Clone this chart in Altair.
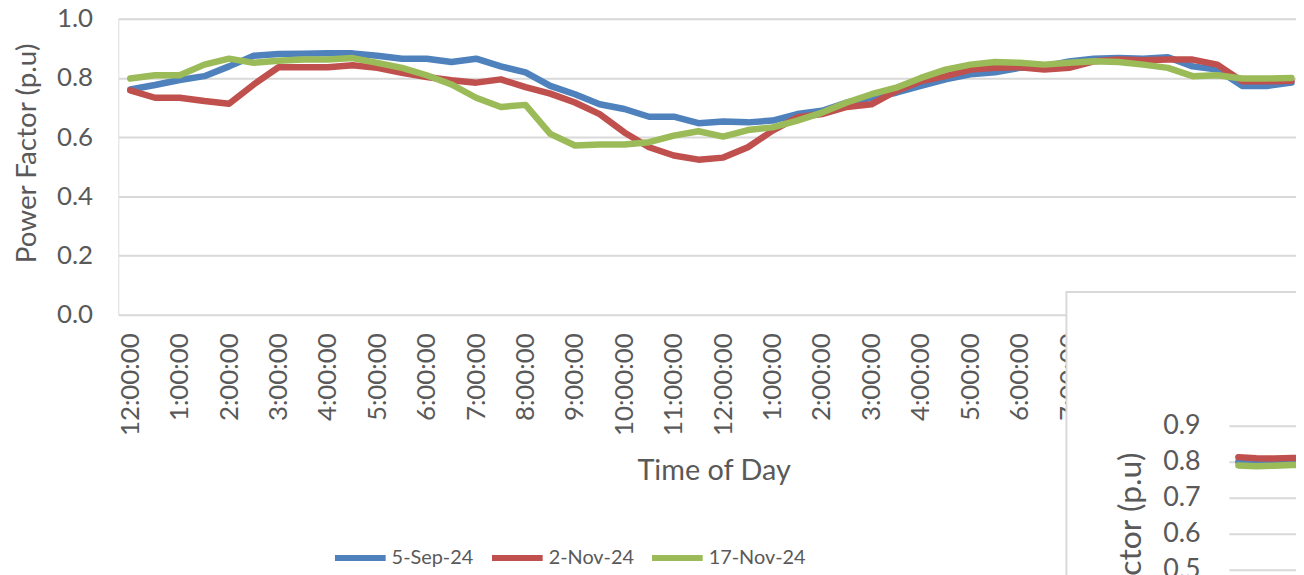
import altair as alt
import pandas as pd

# ---------------- data ----------------
series_names = ["5-Sep-24", "2-Nov-24", "17-Nov-24"]
series_colors = ["#4F81BD", "#C0504D", "#9BBB59"]

hours = [i * 0.5 for i in range(48)]  # 12:00 AM ... 11:30 PM, every 30 min

sep5 = [0.761, 0.776, 0.793, 0.806, 0.839, 0.875, 0.881, 0.882, 0.883, 0.883,
        0.875, 0.865, 0.865, 0.854, 0.865, 0.839, 0.819, 0.773, 0.745, 0.711,
        0.695, 0.669, 0.669, 0.647, 0.653, 0.650, 0.656, 0.678, 0.689, 0.717,
        0.733, 0.750, 0.773, 0.795, 0.812, 0.819, 0.834, 0.839, 0.856, 0.865,
        0.867, 0.865, 0.870, 0.839, 0.828, 0.773, 0.773, 0.784]
nov2 = [0.758, 0.733, 0.733, 0.722, 0.713, 0.778, 0.836, 0.836, 0.836, 0.843,
        0.834, 0.817, 0.803, 0.792, 0.784, 0.795, 0.769, 0.747, 0.717, 0.678,
        0.616, 0.566, 0.538, 0.524, 0.531, 0.566, 0.622, 0.667, 0.678, 0.702,
        0.711, 0.756, 0.789, 0.806, 0.828, 0.834, 0.836, 0.828, 0.834, 0.856,
        0.862, 0.860, 0.862, 0.862, 0.845, 0.789, 0.789, 0.790]
nov17 = [0.798, 0.809, 0.809, 0.845, 0.865, 0.851, 0.858, 0.862, 0.862, 0.867,
         0.851, 0.834, 0.809, 0.778, 0.733, 0.702, 0.709, 0.611, 0.572, 0.575,
         0.575, 0.583, 0.605, 0.620, 0.602, 0.624, 0.633, 0.656, 0.683, 0.717,
         0.745, 0.767, 0.800, 0.828, 0.845, 0.854, 0.851, 0.845, 0.851, 0.856,
         0.854, 0.845, 0.834, 0.806, 0.809, 0.798, 0.798, 0.800]

y_ticks = [0.0, 0.2, 0.4, 0.6, 0.8, 1.0]
x_tick_hours = list(range(24))

# overlapping second chart (only its upper-left corner is visible)
inset_hours = [0.0, 0.5, 1.0, 1.5, 2.0]
inset_sep5 = [0.801, 0.800, 0.800, 0.801, 0.800]
inset_nov2 = [0.814, 0.811, 0.810, 0.812, 0.810]
inset_nov17 = [0.791, 0.789, 0.790, 0.792, 0.793]
inset_ticks = [0.5, 0.6, 0.7, 0.8, 0.9]

FONT = "Lato"
TXT = "#595959"
GRID = "#d9d9d9"

rows = []
for name, vals in zip(series_names, [sep5, nov2, nov17]):
    for h, v in zip(hours, vals):
        rows.append({"Hour": h, "Value": v, "Series": name})
df = pd.DataFrame(rows)

irows = []
for name, vals in zip(series_names, [inset_sep5, inset_nov2, inset_nov17]):
    for h, v in zip(inset_hours, vals):
        irows.append({"Hour": h, "Value": v, "Series": name})
idf = pd.DataFrame(irows)

W, H = 1185, 298

color = alt.Color(
    "Series:N",
    scale=alt.Scale(domain=series_names, range=series_colors),
    legend=alt.Legend(
        title=None, orient="none", direction="horizontal",
        legendX=215, legendY=514,
        symbolType="stroke", symbolStrokeWidth=6, symbolSize=2600,
        labelFont=FONT, labelFontSize=20, labelColor=TXT,
        labelOffset=3, columnPadding=6,
    ),
)

main = alt.Chart(df).mark_line(strokeWidth=6.5, strokeCap="round", strokeJoin="round").encode(
    x=alt.X(
        "Hour:Q",
        scale=alt.Scale(domain=[-0.2413, 23.592], nice=False, zero=False),
        axis=alt.Axis(
            values=x_tick_hours,
            labelExpr="(datum.value % 12 == 0 ? 12 : datum.value % 12) + ':00:00'",
            labelAngle=-90, labelAlign="right", labelBaseline="middle",
            labelFont=FONT, labelFontSize=26, labelColor=TXT, labelPadding=18,
            labelOverlap=False, ticks=False, domain=False, grid=False,
            title="Time of Day", titleFont=FONT, titleFontSize=29, titleColor=TXT,
            titleFontWeight="normal", titleX=599, titleY=166,
            titleAlign="center", titleBaseline="alphabetic", zindex=0,
        ),
    ),
    y=alt.Y(
        "Value:Q",
        scale=alt.Scale(domain=[0, 1], nice=False, zero=False),
        axis=alt.Axis(
            values=y_ticks, format=".1f",
            labelFont=FONT, labelFontSize=26, labelColor=TXT, labelPadding=26,
            ticks=False, domain=False, grid=True, gridColor=GRID, gridWidth=2,
            title="Power Factor (p.u)", titleFont=FONT, titleFontSize=28,
            titleColor=TXT, titleFontWeight="normal", titleAngle=270,
            titleX=-91, titleY=135, titleAlign="center", titleBaseline="middle",
            zindex=0,
        ),
    ),
    color=color,
)

# white panel of the overlapping second chart
panel = alt.Chart(alt.Data(values=[{"p": 1}])).mark_rect(
    fill="white", stroke=GRID, strokeWidth=2
).encode(
    x=alt.value(954), x2=alt.value(1500), y=alt.value(275), y2=alt.value(900)
)

inset_y = alt.Scale(domain=[0.5, 0.9], range=[555, 410], nice=False, zero=False)
inset_x = alt.Scale(domain=[0, 2], range=[1127, 1199], nice=False, zero=False)

tick_df = pd.DataFrame({"v": inset_ticks})

inset_grid = alt.Chart(tick_df).mark_rule(color=GRID, strokeWidth=2).encode(
    y=alt.Y("v:Q", scale=inset_y, axis=None),
    x=alt.value(1118), x2=alt.value(1500),
)

inset_lines = alt.Chart(idf).mark_line(strokeWidth=6.5, strokeCap="round").encode(
    x=alt.X("Hour:Q", scale=inset_x, axis=None),
    y=alt.Y("Value:Q", scale=inset_y, axis=None),
    color=alt.Color("Series:N", scale=alt.Scale(domain=series_names, range=series_colors), legend=None),
)

inset_labels = alt.Chart(tick_df).mark_text(
    align="right", baseline="middle", font=FONT, fontSize=27, color=TXT
).encode(
    y=alt.Y("v:Q", scale=inset_y, axis=None),
    x=alt.value(1089),
    text=alt.Text("v:Q", format=".1f"),
)

inset_title = alt.Chart(alt.Data(values=[{"t": "Power Factor (p.u)"}])).mark_text(
    angle=270, align="center", baseline="middle", font=FONT, fontSize=32, color=TXT
).encode(
    x=alt.value(1019), y=alt.value(563), text="t:N"
)

chart = alt.layer(
    main, panel, inset_grid, inset_lines, inset_labels, inset_title
).resolve_scale(
    x="independent", y="independent"
).properties(
    width=W, height=H,
    padding={"left": 111, "top": 9, "right": 0, "bottom": 260},
    autosize=alt.AutoSizeParams(type="none"),
).configure_view(stroke=None).configure(background="white")

chart.save("out.html", embed_options={"renderer": "svg", "actions": False})
